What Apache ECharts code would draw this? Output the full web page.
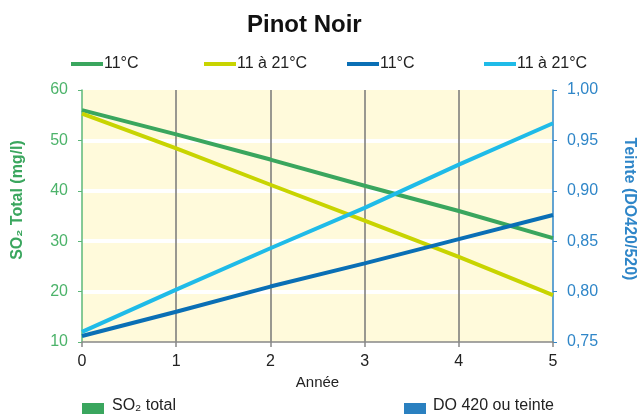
<!DOCTYPE html>
<html><head><meta charset="utf-8">
<script src="https://cdn.jsdelivr.net/npm/echarts@6/dist/echarts.min.js"></script>
<style>html,body{margin:0;padding:0;background:#fff}#c{width:637px;height:414px}</style>
</head><body><div id="c"></div>
<script>
const years = [0, 1, 2, 3, 4, 5];
const so2_11 = [56.0, 51.2, 46.2, 41.0, 36.0, 30.6];
const so2_11_21 = [55.3, 48.4, 41.2, 34.1, 26.9, 19.3];
const do_11 = [0.756, 0.780, 0.805, 0.828, 0.852, 0.876];
const do_11_21 = [0.760, 0.802, 0.843, 0.883, 0.926, 0.967];
const legendNames = ['11°C', '11 à 21°C', '11°C ', '11 à 21°C '];
const colors = ['#3aa65e', '#c8d400', '#0a6fb5', '#1fbbe8'];
const pairs = v => years.map((x, i) => [x, v[i]]);
const font = 'Liberation Sans, Arial, sans-serif';
const chart = echarts.init(document.getElementById('c'));
const mkLegend = (name, left) => ({
  data: [name], left: left, top: 51, icon: 'rect', itemWidth: 32, itemHeight: 4, itemGap: 0,
  textStyle: {fontFamily: font, fontSize: 16, color: '#222', padding: [0, 0, 0, -4]},
  selectedMode: false
});
chart.setOption({
  animation: false,
  title: {text: 'Pinot Noir', left: 242, top: 8,
    textStyle: {fontFamily: font, fontSize: 24, fontWeight: 'bold', color: '#111'}},
  legend: [mkLegend(legendNames[0], 66), mkLegend(legendNames[1], 199), mkLegend(legendNames[2], 342), mkLegend(legendNames[3], 479)],
  grid: {left: 82, right: 84, top: 90, bottom: 72, show: true, backgroundColor: '#fffadb', borderWidth: 0},
  xAxis: {
    type: 'value', min: 0, max: 5, interval: 1,
    name: 'Année', nameLocation: 'middle', nameGap: 32,
    nameTextStyle: {fontFamily: font, fontSize: 15, color: '#222'},
    axisLine: {lineStyle: {color: '#888', width: 1.5}},
    axisTick: {show: true, length: 5, lineStyle: {color: '#888', width: 1.5}},
    axisLabel: {fontFamily: font, fontSize: 16, color: '#222', margin: 12},
    splitLine: {show: true, showMinLine: false, showMaxLine: false, lineStyle: {color: '#777', width: 1.5}}
  },
  yAxis: [{
    type: 'value', min: 10, max: 60, interval: 10,
    axisLine: {show: true, lineStyle: {color: '#5cb878', width: 1.5}},
    axisTick: {show: true, length: 4, lineStyle: {color: '#5cb878'}},
    axisLabel: {fontFamily: font, fontSize: 16, color: '#4cb36a', margin: 14},
    splitLine: {show: true, showMinLine: false, showMaxLine: false, lineStyle: {color: '#ffffff', width: 4}}
  }, {
    type: 'value', min: 0.75, max: 1.0, interval: 0.05, position: 'right',
    axisLine: {show: true, lineStyle: {color: '#2f86c8', width: 1.5}},
    axisTick: {show: true, length: 4, lineStyle: {color: '#2f86c8'}},
    axisLabel: {fontFamily: font, fontSize: 16, color: '#2f86c8', margin: 14,
      formatter: v => v.toFixed(2).replace('.', ',')},
    splitLine: {show: false}
  }],
  series: [
    {name: legendNames[0], type: 'line', yAxisIndex: 0, data: pairs(so2_11), color: colors[0], showSymbol: false, lineStyle: {width: 4}},
    {name: legendNames[1], type: 'line', yAxisIndex: 0, data: pairs(so2_11_21), color: colors[1], showSymbol: false, lineStyle: {width: 4}},
    {name: legendNames[2], type: 'line', yAxisIndex: 1, data: pairs(do_11), color: colors[2], showSymbol: false, lineStyle: {width: 4}},
    {name: legendNames[3], type: 'line', yAxisIndex: 1, data: pairs(do_11_21), color: colors[3], showSymbol: false, lineStyle: {width: 4}}
  ],
  graphic: [
    {type: 'text', x: 18, y: 200, rotation: Math.PI / 2,
      style: {text: 'SO₂ Total (mg/l)', font: 'bold 16px ' + font, fill: '#3aa65e', align: 'center', verticalAlign: 'middle'}},
    {type: 'text', x: 629, y: 209, rotation: -Math.PI / 2,
      style: {text: 'Teinte (DO420/520)', font: 'bold 16px ' + font, fill: '#2f86c8', align: 'center', verticalAlign: 'middle'}},
    {type: 'rect', left: 82, top: 403, shape: {width: 22, height: 14}, style: {fill: '#3aa65e'}},
    {type: 'text', left: 112, top: 398, style: {text: 'SO₂ total', font: '16px ' + font, fill: '#222'}},
    {type: 'rect', left: 404, top: 403, shape: {width: 22, height: 14}, style: {fill: '#2a80c0'}},
    {type: 'text', left: 433, top: 398, style: {text: 'DO 420 ou teinte', font: '16px ' + font, fill: '#222'}}
  ]
});
</script></body></html>
